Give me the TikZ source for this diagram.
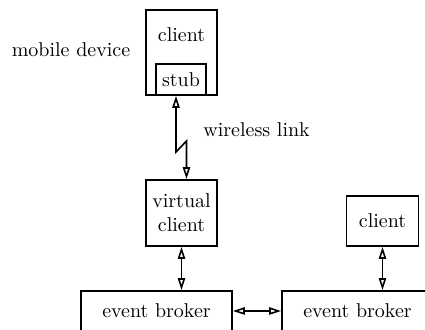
\documentclass[tikz,border=0pt]{standalone}
\usetikzlibrary{arrows.meta}
\begin{document}
\begin{tikzpicture}[x=0.5pt,y=-0.5pt,
  box/.style={draw,line width=0.8pt,rectangle,inner sep=0pt,align=center},
  txt/.style={inner sep=0pt,align=center},
  arr/.style={line width=0.8pt,{Triangle[open,length=6pt,width=3.6pt]}-{Triangle[open,length=6pt,width=3.6pt]}}]
\clip (0,0) rectangle (425,330);
\useasboundingbox (0,0) rectangle (425,330);
% top client with stub
\node[box,minimum width=35.5pt,minimum height=42.5pt] (mc) at (181.5,52.5) {};
\node[txt] (mctext) at (181.5,35) {client};
\node[box,minimum width=25pt,minimum height=15.5pt] (stub) at (181,79.5) {stub};
\node[txt] (md) at (71,50) {mobile device};
% virtual client
\node[box,minimum width=35.5pt,minimum height=33pt] (vc) at (181.5,213) {virtual\\client};
% right client
\node[box,minimum width=36pt,minimum height=25pt] (rc) at (382.5,221) {client};
% brokers
\node[box,minimum width=75.5pt,minimum height=23pt] (lb) at (156.5,314) {};
\node[txt] (lbt) at (156.5,311) {event broker};
\node[box,minimum width=75.5pt,minimum height=23pt] (rb) at (357.5,314) {};
\node[txt] (rbt) at (357.5,311) {event broker};
% wireless link
\coordinate (z1) at (176,152);
\coordinate (z2) at (186.5,141);
\draw[arr] ([xshift=-2.5pt]stub.south) -- (z1) -- (z2) -- ([xshift=2.5pt]vc.north);
\node[txt,anchor=west] (wl) at (203,130) {wireless link};
% other connectors
\draw[arr] (vc.south) -- (vc.south |- lb.north);
\draw[arr] (rc.south) -- (rc.south |- rb.north);
\draw[arr] (lbt -| lb.east) -- (lbt -| rb.west);
\end{tikzpicture}
\end{document}
